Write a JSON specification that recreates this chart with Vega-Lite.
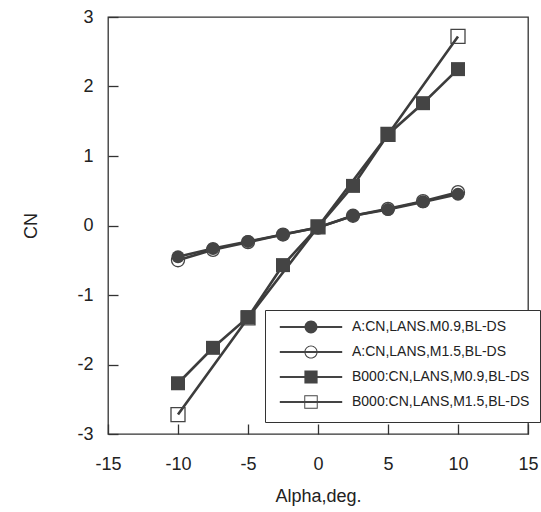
{
  "$schema": "https://vega.github.io/schema/vega-lite/v6.json",
  "width": 420,
  "height": 417,
  "autosize": "none",
  "padding": {"left": 108, "top": 17, "right": 13, "bottom": 78},
  "background": "white",
  "config": {
    "font": "Liberation Sans",
    "view": {"stroke": "#333", "strokeWidth": 1.3, "fill": null},
    "axis": {
      "grid": false,
      "zindex": 1,
      "domain": false,
      "ticks": true,
      "offset": -10,
      "tickColor": "#333",
      "tickWidth": 1.3,
      "tickSize": 10,
      "labelFont": "Liberation Sans",
      "labelFontSize": 18,
      "labelColor": "#222",
      "labelExpr": "toString(datum.value)",
      "titleFont": "Liberation Sans",
      "titleFontSize": 18,
      "titleFontWeight": "normal",
      "titleColor": "#222"
    }
  },
  "data": {
    "values": [
      {"alpha": -10, "cn": -0.5, "series": "A:CN,LANS,M1.5,BL-DS"},
      {"alpha": -7.5, "cn": -0.35, "series": "A:CN,LANS,M1.5,BL-DS"},
      {"alpha": -5, "cn": -0.24, "series": "A:CN,LANS,M1.5,BL-DS"},
      {"alpha": -2.5, "cn": -0.13, "series": "A:CN,LANS,M1.5,BL-DS"},
      {"alpha": 0, "cn": -0.03, "series": "A:CN,LANS,M1.5,BL-DS"},
      {"alpha": 2.5, "cn": 0.14, "series": "A:CN,LANS,M1.5,BL-DS"},
      {"alpha": 5, "cn": 0.24, "series": "A:CN,LANS,M1.5,BL-DS"},
      {"alpha": 7.5, "cn": 0.35, "series": "A:CN,LANS,M1.5,BL-DS"},
      {"alpha": 10, "cn": 0.48, "series": "A:CN,LANS,M1.5,BL-DS"},
      {"alpha": -10, "cn": -2.72, "series": "B000:CN,LANS,M1.5,BL-DS"},
      {"alpha": -5, "cn": -1.33, "series": "B000:CN,LANS,M1.5,BL-DS"},
      {"alpha": 0, "cn": -0.02, "series": "B000:CN,LANS,M1.5,BL-DS"},
      {"alpha": 5, "cn": 1.31, "series": "B000:CN,LANS,M1.5,BL-DS"},
      {"alpha": 10, "cn": 2.72, "series": "B000:CN,LANS,M1.5,BL-DS"},
      {"alpha": -10, "cn": -0.45, "series": "A:CN,LANS.M0.9,BL-DS"},
      {"alpha": -7.5, "cn": -0.33, "series": "A:CN,LANS.M0.9,BL-DS"},
      {"alpha": -5, "cn": -0.23, "series": "A:CN,LANS.M0.9,BL-DS"},
      {"alpha": -2.5, "cn": -0.13, "series": "A:CN,LANS.M0.9,BL-DS"},
      {"alpha": 0, "cn": -0.03, "series": "A:CN,LANS.M0.9,BL-DS"},
      {"alpha": 2.5, "cn": 0.14, "series": "A:CN,LANS.M0.9,BL-DS"},
      {"alpha": 5, "cn": 0.23, "series": "A:CN,LANS.M0.9,BL-DS"},
      {"alpha": 7.5, "cn": 0.34, "series": "A:CN,LANS.M0.9,BL-DS"},
      {"alpha": 10, "cn": 0.45, "series": "A:CN,LANS.M0.9,BL-DS"},
      {"alpha": -10, "cn": -2.27, "series": "B000:CN,LANS,M0.9,BL-DS"},
      {"alpha": -7.5, "cn": -1.76, "series": "B000:CN,LANS,M0.9,BL-DS"},
      {"alpha": -5, "cn": -1.32, "series": "B000:CN,LANS,M0.9,BL-DS"},
      {"alpha": -2.5, "cn": -0.57, "series": "B000:CN,LANS,M0.9,BL-DS"},
      {"alpha": 0, "cn": -0.02, "series": "B000:CN,LANS,M0.9,BL-DS"},
      {"alpha": 2.5, "cn": 0.57, "series": "B000:CN,LANS,M0.9,BL-DS"},
      {"alpha": 5, "cn": 1.31, "series": "B000:CN,LANS,M0.9,BL-DS"},
      {"alpha": 7.5, "cn": 1.76, "series": "B000:CN,LANS,M0.9,BL-DS"},
      {"alpha": 10, "cn": 2.25, "series": "B000:CN,LANS,M0.9,BL-DS"}
    ]
  },
  "encoding": {
    "x": {
      "field": "alpha",
      "type": "quantitative",
      "scale": {"domain": [-15, 15], "nice": false, "zero": false},
      "axis": {"title": "Alpha,deg.", "values": [-15, -10, -5, 0, 5, 10, 15], "labelPadding": 21, "titlePadding": 14, "labelFlush": false}
    },
    "y": {
      "field": "cn",
      "type": "quantitative",
      "scale": {"domain": [-3, 3], "nice": false, "zero": false},
      "axis": {"title": "CN", "values": [-3, -2, -1, 0, 1, 2, 3], "labelPadding": 15, "titlePadding": 36, "labelFlush": false}
    }
  },
  "layer": [
    {
      "mark": {"type": "line", "color": "#3c3c3c", "strokeWidth": 2.6},
      "encoding": {"detail": {"field": "series"}}
    },
    {
      "transform": [{"filter": "datum.series === 'A:CN,LANS,M1.5,BL-DS'"}],
      "mark": {"type": "point", "shape": "circle", "filled": false, "color": "#444", "strokeWidth": 1.3, "size": 169, "opacity": 1}
    },
    {
      "transform": [{"filter": "datum.series === 'B000:CN,LANS,M1.5,BL-DS'"}],
      "mark": {"type": "point", "shape": "square", "filled": false, "color": "#444", "strokeWidth": 1.3, "size": 196, "opacity": 1}
    },
    {
      "transform": [{"filter": "datum.series === 'A:CN,LANS.M0.9,BL-DS'"}],
      "mark": {"type": "point", "shape": "circle", "filled": true, "color": "#444", "size": 169, "opacity": 1}
    },
    {
      "transform": [{"filter": "datum.series === 'B000:CN,LANS,M0.9,BL-DS'"}],
      "mark": {"type": "point", "shape": "square", "filled": true, "color": "#444", "size": 196, "opacity": 1}
    },
    {
      "transform": [{"filter": "datum.alpha > 100"}],
      "mark": {"type": "point", "filled": true, "color": "#444"},
      "encoding": {
        "shape": {
          "field": "series",
          "scale": {
            "domain": ["A:CN,LANS.M0.9,BL-DS", "A:CN,LANS,M1.5,BL-DS", "B000:CN,LANS,M0.9,BL-DS", "B000:CN,LANS,M1.5,BL-DS"],
            "range": [
              "M-5.2,-0.17H5.2V0.17H-5.2ZM1.08,0A1.08,1.08,0,1,1,-1.08,0A1.08,1.08,0,1,1,1.08,0Z",
              "M-5.2,-0.17H5.2V0.17H-5.2ZM1.1,0A1.1,1.1,0,1,1,-1.1,0A1.1,1.1,0,1,1,1.1,0ZM0.92,0A0.92,0.92,0,1,0,-0.92,0A0.92,0.92,0,1,0,0.92,0Z",
              "M-5.2,-0.17H5.2V0.17H-5.2ZM-1.1,-1.1H1.1V1.1H-1.1Z",
              "M-5.2,-0.17H5.2V0.17H-5.2ZM-1.12,-1.12H1.12V1.12H-1.12ZM-0.96,-0.96V0.96H0.96V-0.96Z"
            ]
          },
          "legend": {
            "title": null,
            "orient": "none",
            "legendX": 157,
            "legendY": 293,
            "strokeColor": "#333",
            "fillColor": "white",
            "padding": 10,
            "symbolSize": 144,
            "symbolFillColor": "#444",
            "symbolOpacity": 1,
            "symbolOffset": 29,
            "labelOffset": 34,
            "labelFont": "Liberation Sans",
            "labelFontSize": 14,
            "labelColor": "#222",
            "rowPadding": 5,
            "labelLimit": 300
          }
        }
      }
    }
  ]
}
